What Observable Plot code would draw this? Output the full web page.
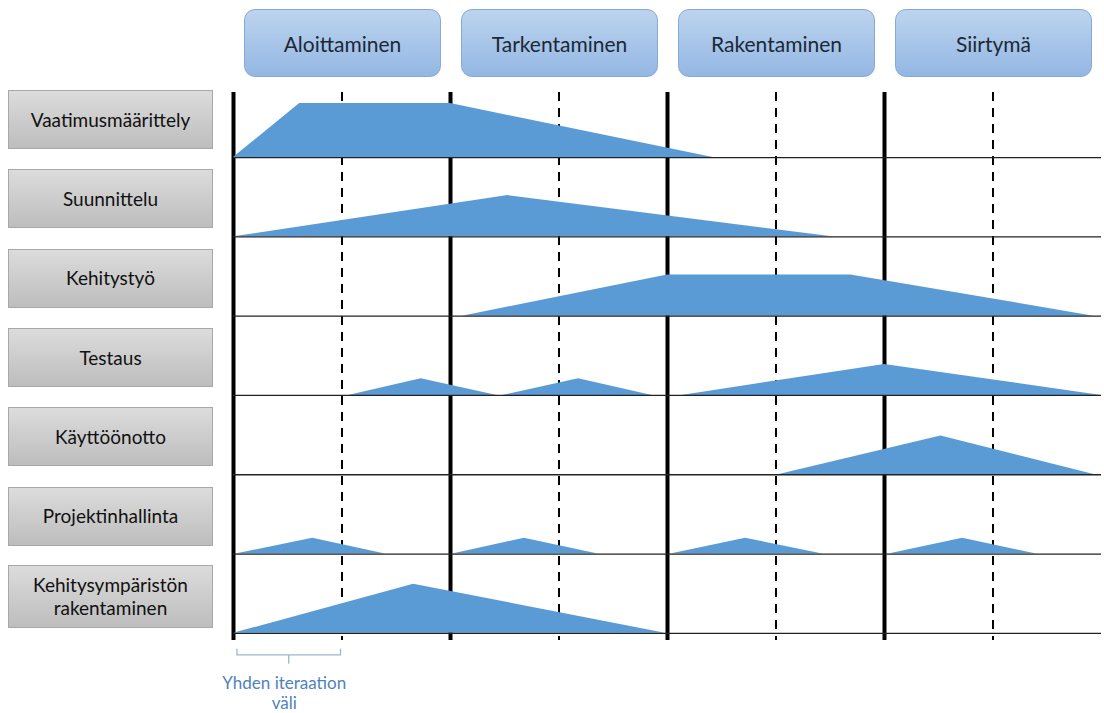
<!DOCTYPE html>
<html>
<head>
<meta charset="utf-8">
<script src="https://cdn.jsdelivr.net/npm/d3@7"></script>
<script src="https://cdn.jsdelivr.net/npm/@observablehq/plot@0.6"></script>
<style>
  html, body { margin: 0; padding: 0; background: #fff; }
  #wrap { position: relative; width: 1104px; height: 713px; font-family: Lato, "Open Sans", sans-serif; }
  #wrap svg.plot { position: absolute; left: 0; top: 0; }
  .phase {
    position: absolute; box-sizing: border-box; border-radius: 11px;
    background: linear-gradient(#bdd4ef, #93b7e3);
    border: 1px solid #86a9d6;
    display: flex; align-items: center; justify-content: center;
    font-size: 21px; color: #1c2936;
  }
  .act {
    position: absolute; box-sizing: border-box;
    background: linear-gradient(#dcdcdc, #bdbdbd);
    border: 1px solid #a8a8a8;
    display: flex; align-items: center; justify-content: center; text-align: center;
    font-size: 19px; color: #111; line-height: 1.25;
  }
</style>
</head>
<body>
<div id="wrap"></div>
<script>
// ---- Data ----
const phases = ["Aloittaminen", "Tarkentaminen", "Rakentaminen", "Siirtymä"];
const phaseStart = [0, 2, 4, 6];     // iteration index where each phase starts
const phaseEnd = [2, 4, 6, 8];
const iterations = [1, 3, 5, 7];     // mid-phase iteration boundaries (dashed)

const activities = [
  "Vaatimusmäärittely",
  "Suunnittelu",
  "Kehitystyö",
  "Testaus",
  "Käyttöönotto",
  "Projektinhallinta",
  "Kehitysympäristön\nrakentaminen"
];

// workload humps: x = time in iterations, v = intensity (% of row height)
const vaatimusX = [[0, 0.61, 2.0, 4.42]];
const vaatimusV = [[0, 68, 68, 0]];
const suunnitteluX = [[0, 2.53, 5.52]];
const suunnitteluV = [[0, 52, 0]];
const kehitysX = [[2.11, 4.0, 5.69, 7.93]];
const kehitysV = [[0, 52, 52, 0]];
const testausX = [[1.06, 1.73, 2.43], [2.48, 3.18, 3.86], [4.13, 6.0, 8.0]];
const testausV = [[0, 21, 0], [0, 21, 0], [0, 39, 0]];
const kayttoX = [[5.02, 6.52, 7.94]];
const kayttoV = [[0, 49, 0]];
const projektiX = [[0.02, 0.73, 1.40], [2.02, 2.68, 3.36], [4.03, 4.72, 5.43], [6.04, 6.72, 7.40]];
const projektiV = [[0, 20, 0], [0, 20, 0], [0, 20, 0], [0, 20, 0]];
const ympX = [[0, 1.66, 3.98]];
const ympV = [[0, 62, 0]];

const seriesX = [vaatimusX, suunnitteluX, kehitysX, testausX, kayttoX, projektiX, ympX];
const seriesV = [vaatimusV, suunnitteluV, kehitysV, testausV, kayttoV, projektiV, ympV];

const bracketText = ["Yhden iteraation", "väli"];

// ---- Build table ----
const points = [];
seriesX.forEach((humps, row) => {
  humps.forEach((xs, h) => {
    xs.forEach((x, k) => points.push({row, key: row + "-" + h, x, v: seriesV[row][h][k] / 100}));
  });
});
const rows = activities.map((_, i) => i);

const W = 1104, H = 713;
const chart = Plot.plot({
  width: W,
  height: H,
  marginTop: 92,
  marginBottom: 73,
  marginLeft: 233,
  marginRight: 3,
  x: {domain: [0, 8], axis: null},
  y: {domain: [-0.82, 6.09], reverse: true, axis: null},
  marks: [
    Plot.ruleX(iterations, {stroke: "#000", strokeWidth: 2, strokeDasharray: "9,7"}),
    Plot.ruleX(phaseStart, {stroke: "#000", strokeWidth: 4}),
    Plot.areaY(points, {x: "x", y1: "row", y2: d => d.row - d.v, z: "key", fill: "#5b9bd5", curve: "linear"}),
    Plot.ruleY(rows, {x1: 0, x2: 8, stroke: "#222", strokeWidth: 1.3})
  ]
});
chart.classList.add("plot");
const wrap = document.getElementById("wrap");
wrap.appendChild(chart);

const xs = chart.scale("x"), ys = chart.scale("y");

// phase header boxes
phases.forEach((p, i) => {
  const x0 = xs.apply(phaseStart[i]) + 11, x1 = xs.apply(phaseEnd[i]) - 9;
  const d = document.createElement("div");
  d.className = "phase";
  d.style.left = x0 + "px";
  d.style.width = (x1 - x0) + "px";
  d.style.top = "9px";
  d.style.height = "68px";
  d.textContent = p;
  wrap.appendChild(d);
});

// activity label boxes
activities.forEach((a, i) => {
  const base = ys.apply(i);
  const two = a.includes("\n");
  const h = two ? 63 : 59;
  const bottom = base - (two ? 5 : 8);
  const d = document.createElement("div");
  d.className = "act";
  d.style.left = "8px";
  d.style.width = "205px";
  d.style.top = (bottom - h) + "px";
  d.style.height = h + "px";
  d.innerHTML = a.split("\n").join("<br>");
  wrap.appendChild(d);
});

// iteration bracket annotation
const svg = d3.select(chart);
const bx0 = xs.apply(0) + 4, bx1 = xs.apply(1) - 1, by = ys.apply(6) + 22;
const bm = (bx0 + bx1) / 2;
svg.append("path")
  .attr("d", `M${bx0},${by - 6}V${by}H${bx1}V${by - 6}M${bm},${by}V${by + 9}`)
  .attr("fill", "none").attr("stroke", "#9db5cd").attr("stroke-width", 1.3);
bracketText.forEach((t, i) => {
  svg.append("text")
    .attr("x", (xs.apply(0) + xs.apply(1)) / 2 - 3)
    .attr("y", by + 34 + i * 20)
    .attr("text-anchor", "middle")
    .attr("font-family", "Lato, 'Open Sans', sans-serif")
    .attr("font-size", 17)
    .attr("fill", "#4f82bd")
    .text(t);
});
</script>
</body>
</html>
